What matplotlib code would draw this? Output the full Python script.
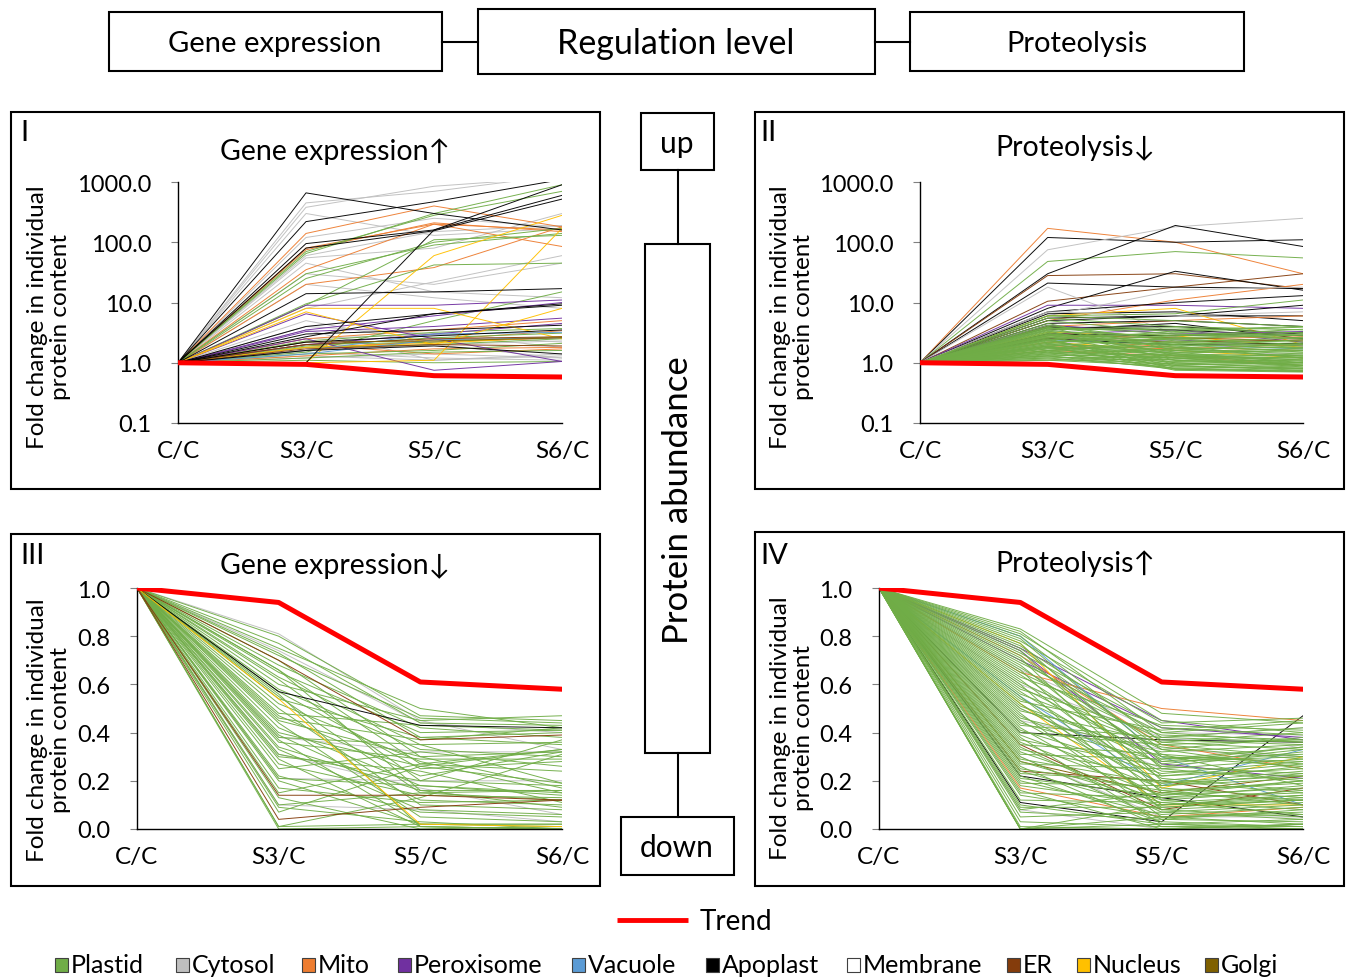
import matplotlib
matplotlib.use('Agg')
import matplotlib.pyplot as plt
from matplotlib.patches import Rectangle

plt.rcParams['font.family'] = ['Lato', 'DejaVu Sans']

# ---------------- data ----------------
stages = ['C/C', 'S3/C', 'S5/C', 'S6/C']
cc_value = 1.0
trend = [1.0, 0.94, 0.61, 0.58]

categories = ['Plastid', 'Cytosol', 'Mito', 'Peroxisome', 'Vacuole', 'Apoplast',
              'Membrane', 'ER', 'Nucleus', 'Golgi']
cat_codes = ['P', 'C', 'M', 'X', 'V', 'A', 'W', 'E', 'N', 'G']
cat_colors = ['#70AD47', '#BFBFBF', '#ED7D31', '#7030A0', '#5B9BD5', '#000000',
              '#FFFFFF', '#843C0C', '#FFC000', '#7F6000']

panel_titles = ['Gene expression\u2191', 'Proteolysis\u2193',
                'Gene expression\u2193', 'Proteolysis\u2191']
panel_numerals = ['I', 'II', 'III', 'IV']
log_ticks = [0.1, 1.0, 10.0, 100.0, 1000.0]
lin_ticks = [0.0, 0.2, 0.4, 0.6, 0.8, 1.0]

# (category, S3/C, S5/C, S6/C) ; C/C is always 1.0
panel1_lines = [
    ('C', 450, 700, 1300), ('C', 380, 850, 1200), ('C', 60, 150, 190), ('C', 30, 20, 45),
    ('C', 5, 2, 1.2), ('C', 1.5, 1.2, 1.1), ('C', 55, 80, 300), ('C', 20, 12, 8),
    ('C', 300, 130, 170), ('C', 120, 250, 180), ('C', 2.5, 3.0, 1.8), ('C', 1.3, 1.1, 1.4),
    ('C', 8, 22, 60), ('C', 1.2, 1.4, 1.2), ('C', 45, 15, 12), ('C', 4, 3, 2.2),
    ('C', 1.6, 2.0, 2.3), ('C', 3.5, 1.1, 1.3),
    ('M', 140, 400, 180), ('M', 80, 200, 85), ('M', 35, 200, 160), ('M', 20, 38, 180),
    ('M', 2.5, 3.5, 5), ('M', 1.3, 1.7, 1.8), ('M', 1.8, 2.2, 2.6), ('M', 75, 210, 150),
    ('M', 1.6, 2.4, 3.4), ('M', 2.0, 1.4, 1.7),
    ('P', 65, 300, 900), ('P', 30, 90, 140), ('P', 25, 100, 170), ('P', 9.5, 42, 45),
    ('P', 9, 110, 130), ('P', 1.5, 5, 15), ('P', 2, 2.2, 2.7), ('P', 1.1, 1.0, 1.05),
    ('P', 1.8, 2, 2.5), ('P', 1.4, 1.6, 2.1), ('P', 1.2, 1.5, 1.6), ('P', 70, 280, 700),
    ('P', 2.3, 3.2, 3.7), ('P', 1.9, 2.6, 3.1),
    ('X', 9, 9, 11), ('X', 6.5, 2.5, 1.05), ('X', 3.3, 4, 5.5), ('X', 3.5, 6, 10),
    ('X', 2.5, 0.75, 1.05), ('X', 2, 3, 4.5),
    ('N', 8, 8, 2.5), ('N', 1.0, 60, 280), ('N', 1.0, 1.1, 170), ('N', 7, 2, 8),
    ('N', 1.8, 2.1, 2.7),
    ('V', 1.6, 3.0, 3.2), ('V', 1.4, 2.4, 2.6),
    ('E', 2.0, 2.5, 2.7), ('E', 1.7, 2.0, 1.9), ('G', 2.2, 2.3, 2.6),
    ('A', 660, 300, 160), ('A', 220, 470, 1100), ('A', 95, 160, 600), ('A', 80, 155, 520),
    ('A', 1.0, 160, 900), ('A', 14, 15, 17), ('A', 2.7, 6.5, 9), ('A', 3.0, 3.5, 4.2),
    ('A', 2.2, 2.8, 3.5), ('A', 1.6, 1.9, 1.4), ('A', 4, 6.5, 9.5),
]

panel2_lines = [
    ('M', 170, 100, 30), ('A', 120, 100, 110), ('C', 75, 180, 250), ('P', 48, 70, 55),
    ('A', 30, 190, 85), ('E', 28, 30, 17), ('E', 10.5, 18, 30), ('A', 21, 18, 17),
    ('A', 8, 33, 16), ('C', 18, 3, 2.5), ('X', 9, 9, 8), ('M', 5, 11, 20),
    ('A', 7, 10, 13), ('C', 6, 16, 18), ('A', 6.5, 7, 5), ('A', 5, 6, 6),
    ('N', 6, 8, 2), ('M', 4, 5, 6), ('A', 3.8, 4, 3), ('X', 3, 3.5, 2.2),
    ('A', 4, 3.5, 2.8), ('A', 3.5, 4.5, 2.5), ('A', 5.5, 6, 9), ('A', 4.5, 5, 4),
    ('M', 3, 2.5, 2.7), ('M', 2.5, 1.8, 1.6), ('X', 2.2, 2.4, 1.9), ('N', 3.2, 2.8, 1.8),
    ('E', 2.6, 2.2, 2.4), ('C', 3.5, 2.5, 3.0), ('C', 7, 6, 7), ('C', 2.0, 1.5, 1.4),
    ('V', 2.4, 2.0, 1.7), ('G', 2.8, 2.6, 2.3), ('M', 1.6, 1.3, 0.9), ('N', 2.2, 1.6, 1.2),
    ('A', 2.5, 2.0, 2.1), ('A', 3, 2.8, 3.2), ('X', 4.2, 3.0, 3.3), ('M', 1.9, 1.7, 2.0),
    ('P', 4.0, 3.0, 2.5), ('P', 3.8, 2.5, 2.0), ('P', 3.6, 3.5, 4.0), ('P', 3.5, 2.0, 1.5),
    ('P', 3.3, 2.8, 3.2), ('P', 3.2, 1.8, 1.2), ('P', 3.0, 2.2, 1.8), ('P', 2.9, 1.5, 1.0),
    ('P', 2.8, 3.0, 2.6), ('P', 2.7, 1.2, 0.9), ('P', 2.6, 2.4, 2.2), ('P', 2.5, 1.7, 1.4),
    ('P', 2.4, 1.0, 0.8), ('P', 2.3, 2.0, 2.4), ('P', 2.2, 1.4, 1.1), ('P', 2.1, 0.9, 0.75),
    ('P', 2.0, 1.8, 1.6), ('P', 2.0, 1.3, 1.3), ('P', 1.9, 1.1, 0.9), ('P', 1.9, 2.6, 3.0),
    ('P', 1.8, 1.6, 1.5), ('P', 1.8, 0.85, 0.8), ('P', 1.7, 1.2, 1.0), ('P', 1.7, 1.9, 2.0),
    ('P', 1.6, 1.0, 0.95), ('P', 1.6, 1.5, 1.7), ('P', 1.5, 0.8, 0.72), ('P', 1.5, 1.3, 1.2),
    ('P', 1.45, 1.1, 1.1), ('P', 1.4, 0.95, 0.85), ('P', 1.4, 1.7, 1.8), ('P', 1.35, 1.2, 1.4),
    ('P', 1.3, 0.9, 0.78), ('P', 1.3, 1.4, 1.3), ('P', 1.25, 1.05, 1.0), ('P', 1.2, 0.82, 0.74),
    ('P', 1.2, 1.25, 1.15), ('P', 1.15, 0.95, 0.9), ('P', 1.1, 0.88, 0.82), ('P', 1.1, 1.15, 1.25),
    ('P', 5.5, 4.0, 3.5), ('P', 6.0, 5.0, 4.0), ('P', 5.0, 3.2, 2.8), ('P', 4.5, 1.6, 1.3),
    ('P', 3.4, 1.1, 0.95), ('P', 2.5, 0.78, 0.72), ('P', 2.2, 2.8, 3.6), ('P', 1.9, 0.75, 0.7),
    ('P', 1.6, 2.2, 2.6), ('P', 2.8, 1.9, 1.2), ('P', 3.1, 1.4, 0.9), ('P', 2.4, 3.3, 3.9),
    ('P', 1.3, 0.78, 0.72), ('P', 2.1, 1.6, 2.1), ('P', 1.75, 1.35, 1.05), ('P', 4.2, 2.3, 1.9),
    ('P', 3.7, 3.8, 3.1), ('P', 2.65, 2.1, 1.7), ('P', 1.55, 1.2, 0.85), ('P', 2.35, 0.95, 1.15),
    ('P', 6.0, 6.5, 11), ('P', 3.9, 1.3, 1.0), ('P', 2.95, 2.5, 2.9), ('P', 1.85, 1.45, 1.6),
]

panel3_lines = [
    ('C', 0.81, 0.45, 0.33), ('C', 0.74, 0.44, 0.40), ('C', 0.31, 0.17, 0.06),
    ('C', 0.21, 0.20, 0.20), ('C', 0.10, 0.08, 0.03), ('C', 0.38, 0.32, 0.32),
    ('P', 0.80, 0.47, 0.45), ('P', 0.77, 0.44, 0.43), ('P', 0.75, 0.50, 0.42), ('P', 0.73, 0.38, 0.40),
    ('P', 0.72, 0.46, 0.44), ('P', 0.70, 0.30, 0.32), ('P', 0.68, 0.42, 0.38), ('P', 0.66, 0.27, 0.24),
    ('P', 0.65, 0.40, 0.41), ('P', 0.63, 0.35, 0.36), ('P', 0.62, 0.20, 0.18), ('P', 0.60, 0.45, 0.47),
    ('P', 0.58, 0.33, 0.30), ('P', 0.57, 0.25, 0.28), ('P', 0.55, 0.15, 0.12), ('P', 0.54, 0.38, 0.35),
    ('P', 0.52, 0.28, 0.15), ('P', 0.50, 0.10, 0.08), ('P', 0.48, 0.43, 0.41), ('P', 0.47, 0.22, 0.32),
    ('P', 0.45, 0.30, 0.17), ('P', 0.44, 0.05, 0.03), ('P', 0.42, 0.18, 0.14), ('P', 0.40, 0.26, 0.33),
    ('P', 0.39, 0.12, 0.10), ('P', 0.38, 0.35, 0.19), ('P', 0.37, 0.02, 0.01), ('P', 0.36, 0.29, 0.29),
    ('P', 0.34, 0.16, 0.16), ('P', 0.33, 0.08, 0.06), ('P', 0.31, 0.20, 0.37), ('P', 0.30, 0.24, 0.11),
    ('P', 0.29, 0.01, 0.00), ('P', 0.27, 0.14, 0.13), ('P', 0.25, 0.32, 0.26), ('P', 0.22, 0.07, 0.05),
    ('P', 0.21, 0.18, 0.15), ('P', 0.20, 0.02, 0.02), ('P', 0.17, 0.11, 0.12), ('P', 0.15, 0.27, 0.33),
    ('P', 0.13, 0.00, 0.01), ('P', 0.10, 0.15, 0.16), ('P', 0.09, 0.03, 0.00), ('P', 0.07, 0.26, 0.19),
    ('P', 0.01, 0.13, 0.31), ('P', 0.01, 0.02, 0.02), ('P', 0.00, 0.01, 0.00), ('P', 0.66, 0.16, 0.09),
    ('P', 0.56, 0.01, 0.00), ('P', 0.46, 0.37, 0.42),
    ('A', 0.57, 0.43, 0.42), ('E', 0.70, 0.37, 0.39), ('E', 0.14, 0.14, 0.12),
    ('E', 0.04, 0.09, 0.12), ('N', 0.54, 0.02, 0.01),
]

panel4_lines = [
    ('C', 0.60, 0.38, 0.42), ('C', 0.50, 0.25, 0.35), ('C', 0.45, 0.33, 0.30),
    ('C', 0.30, 0.05, 0.05), ('C', 0.08, 0.00, 0.02), ('C', 0.66, 0.40, 0.39),
    ('A', 0.11, 0.03, 0.47), ('A', 0.22, 0.13, 0.05), ('A', 0.40, 0.37, 0.36),
    ('X', 0.75, 0.45, 0.37), ('X', 0.70, 0.42, 0.38), ('X', 0.74, 0.27, 0.21),
    ('M', 0.65, 0.50, 0.45), ('M', 0.72, 0.35, 0.25), ('M', 0.17, 0.05, 0.09),
    ('V', 0.80, 0.30, 0.10), ('V', 0.55, 0.18, 0.33), ('N', 0.77, 0.17, 0.30),
    ('N', 0.52, 0.10, 0.10), ('E', 0.24, 0.20, 0.10), ('E', 0.35, 0.08, 0.17),
    ('G', 0.28, 0.15, 0.22),
    ('P', 0.83, 0.48, 0.44), ('P', 0.82, 0.40, 0.36), ('P', 0.81, 0.45, 0.40), ('P', 0.80, 0.36, 0.33),
    ('P', 0.79, 0.30, 0.28), ('P', 0.78, 0.44, 0.46), ('P', 0.77, 0.25, 0.20), ('P', 0.76, 0.38, 0.42),
    ('P', 0.75, 0.33, 0.25), ('P', 0.74, 0.20, 0.15), ('P', 0.73, 0.42, 0.39), ('P', 0.72, 0.28, 0.34),
    ('P', 0.71, 0.15, 0.12), ('P', 0.70, 0.35, 0.30), ('P', 0.69, 0.40, 0.44), ('P', 0.68, 0.22, 0.27),
    ('P', 0.67, 0.31, 0.18), ('P', 0.66, 0.12, 0.08), ('P', 0.65, 0.37, 0.35), ('P', 0.64, 0.26, 0.23),
    ('P', 0.63, 0.43, 0.41), ('P', 0.62, 0.18, 0.21), ('P', 0.61, 0.33, 0.38), ('P', 0.60, 0.08, 0.05),
    ('P', 0.59, 0.29, 0.31), ('P', 0.58, 0.39, 0.37), ('P', 0.57, 0.21, 0.16), ('P', 0.56, 0.34, 0.29),
    ('P', 0.55, 0.10, 0.14), ('P', 0.54, 0.27, 0.33), ('P', 0.53, 0.41, 0.45), ('P', 0.52, 0.16, 0.10),
    ('P', 0.51, 0.30, 0.26), ('P', 0.50, 0.24, 0.22), ('P', 0.49, 0.36, 0.40), ('P', 0.48, 0.05, 0.02),
    ('P', 0.47, 0.19, 0.24), ('P', 0.46, 0.32, 0.35), ('P', 0.45, 0.13, 0.18), ('P', 0.44, 0.28, 0.30),
    ('P', 0.43, 0.38, 0.36), ('P', 0.42, 0.09, 0.12), ('P', 0.41, 0.23, 0.28), ('P', 0.40, 0.35, 0.37),
    ('P', 0.39, 0.17, 0.13), ('P', 0.38, 0.02, 0.00), ('P', 0.37, 0.26, 0.32), ('P', 0.36, 0.14, 0.20),
    ('P', 0.35, 0.31, 0.27), ('P', 0.34, 0.07, 0.04), ('P', 0.33, 0.22, 0.25), ('P', 0.32, 0.12, 0.16),
    ('P', 0.31, 0.29, 0.34), ('P', 0.30, 0.04, 0.08), ('P', 0.29, 0.19, 0.22), ('P', 0.28, 0.11, 0.06),
    ('P', 0.27, 0.25, 0.29), ('P', 0.26, 0.01, 0.00), ('P', 0.25, 0.16, 0.19), ('P', 0.24, 0.08, 0.11),
    ('P', 0.23, 0.20, 0.26), ('P', 0.22, 0.03, 0.01), ('P', 0.21, 0.14, 0.17), ('P', 0.20, 0.06, 0.09),
    ('P', 0.19, 0.18, 0.23), ('P', 0.18, 0.10, 0.13), ('P', 0.16, 0.00, 0.02), ('P', 0.15, 0.13, 0.15),
    ('P', 0.14, 0.05, 0.07), ('P', 0.12, 0.11, 0.14), ('P', 0.10, 0.02, 0.04), ('P', 0.09, 0.09, 0.12),
    ('P', 0.08, 0.15, 0.20), ('P', 0.07, 0.04, 0.03), ('P', 0.05, 0.07, 0.10), ('P', 0.03, 0.01, 0.01),
    ('P', 0.01, 0.00, 0.00), ('P', 0.00, 0.00, 0.02), ('P', 0.00, 0.05, 0.06), ('P', 0.00, 0.10, 0.12),
    ('P', 0.00, 0.02, 0.01),
]

# ---------------- figure ----------------
W, H = 1347, 979
fig = plt.figure(figsize=(W / 100, H / 100), dpi=100)
fig.patch.set_facecolor('white')

ov = fig.add_axes([0, 0, 1, 1])
ov.set_xlim(0, W)
ov.set_ylim(H, 0)
ov.axis('off')

def box(x0, y0, x1, y1, lw=1.5):
    ov.add_patch(Rectangle((x0, y0), x1 - x0, y1 - y0, fill=False, ec='black', lw=lw))

# top header boxes
box(109, 13, 442, 72)
box(478, 10, 875, 75)
box(910, 13, 1244, 72)
ov.plot([442, 478], [43, 43], color='black', lw=1.5)
ov.plot([875, 910], [43, 43], color='black', lw=1.5)
ov.text(275, 44, 'Gene expression', ha='center', va='center', fontsize=21)
ov.text(676, 44, 'Regulation level', ha='center', va='center', fontsize=24.5)
ov.text(1077, 44, 'Proteolysis', ha='center', va='center', fontsize=21)

# panel frames
box(11, 113, 600, 490)
box(755, 113, 1344, 490)
box(11, 535, 600, 887)
box(755, 533, 1344, 887)

# central column
box(641, 114, 714, 171)
ov.plot([678, 678], [171, 245], color='black', lw=1.5)
box(645, 245, 710, 754)
ov.plot([678, 678], [754, 818], color='black', lw=1.5)
box(621, 818, 734, 876)
ov.text(677, 144, 'up', ha='center', va='center', fontsize=21.5)
ov.text(677, 848, 'down', ha='center', va='center', fontsize=21.5)
ov.text(678, 500, 'Protein abundance', ha='center', va='center', rotation=90, fontsize=25)

# trend legend
ov.plot([617, 688], [921, 921], color='#FF0000', lw=3.5, solid_capstyle='butt')
ov.text(700, 922, 'Trend', ha='left', va='center', fontsize=20)

# category legend
leg_x = [55, 176, 302, 398, 572, 706, 847, 1007, 1077, 1205]
for xq, lab, col in zip(leg_x, categories, cat_colors):
    ov.add_patch(Rectangle((xq, 959), 13, 14, fc=col, ec='#404040', lw=0.8))
    ov.text(xq + 16, 966, lab, ha='left', va='center', fontsize=18)

color_of = dict(zip(cat_codes, cat_colors))

# panel specs: (left, right, top, bottom) in pixels, data, log?, title pos, numeral pos, ylabel pos
panels = [
    ((178, 562, 183, 424), panel1_lines, True, (335, 152), (20, 133), (49, 317)),
    ((920, 1303, 183, 424), panel2_lines, True, (1075, 148), (760, 133), (792, 317)),
    ((137, 562, 589, 830), panel3_lines, False, (335, 566), (20, 556), (49, 730)),
    ((879, 1303, 589, 830), panel4_lines, False, (1075, 564), (760, 556), (792, 728)),
]

for i, (rect, lines, is_log, tpos, npos, ypos) in enumerate(panels):
    l, r, t, b = rect
    ax = fig.add_axes([l / W, 1 - b / H, (r - l) / W, (b - t) / H])
    ax.patch.set_alpha(0)
    xs = range(len(stages))
    for code, v3, v5, v6 in lines:
        ax.plot(xs, [cc_value, v3, v5, v6], color=color_of[code], lw=0.7, alpha=0.95)
    ax.plot(xs, trend, color='#FF0000', lw=3.6, solid_capstyle='round', zorder=5)
    ax.set_xlim(0, 3)
    if is_log:
        ax.set_yscale('log')
        ax.set_ylim(0.1, 1000)
        ax.set_yticks(log_ticks)
        ax.set_yticklabels([f'{v:.1f}' for v in log_ticks])
        ax.minorticks_off()
    else:
        ax.set_ylim(0, 1.0)
        ax.set_yticks(lin_ticks)
        ax.set_yticklabels([f'{v:.1f}' for v in lin_ticks])
    ax.set_xticks(list(xs))
    ax.set_xticklabels(stages)
    ax.tick_params(axis='x', length=0, pad=12, labelsize=17.5)
    ax.tick_params(axis='y', length=5, width=0.8, color='#808080', pad=14, labelsize=17)
    for s in ['top', 'right']:
        ax.spines[s].set_visible(False)
    for s in ['left', 'bottom']:
        ax.spines[s].set_color('black')
        ax.spines[s].set_linewidth(1.0)
    ov.text(tpos[0], tpos[1], panel_titles[i], ha='center', va='center', fontsize=20.5)
    ov.text(npos[0], npos[1], panel_numerals[i], ha='left', va='center', fontsize=21)
    ov.text(ypos[0], ypos[1], 'Fold change in individual\nprotein content', ha='center',
            va='center', rotation=90, fontsize=17.5, linespacing=1.15)

fig.savefig('out.png', dpi=100, facecolor='white')
